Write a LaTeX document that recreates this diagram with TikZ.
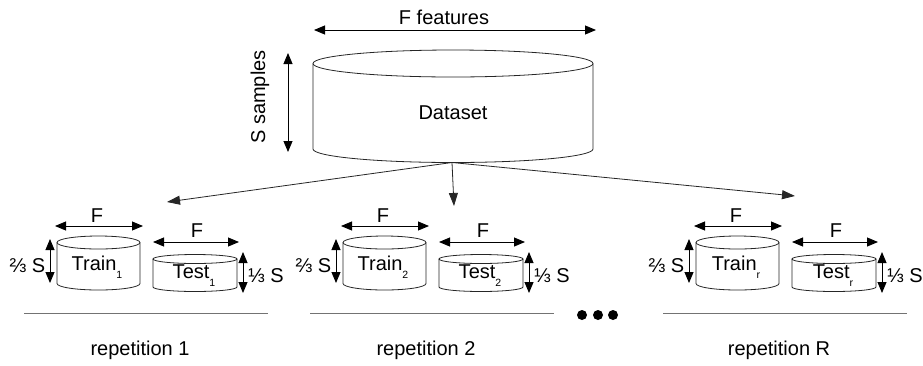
\documentclass[tikz,border=0pt]{standalone}
\usepackage{fontspec}
\setmainfont{Liberation Sans}
\usetikzlibrary{arrows.meta}

% a drum (cylinder) seen slightly from above: x1, x2, y of top rim, y of bottom rim, rim half-height
\newcommand\drum[5]{%
  \draw[ink, fill=white] (#1,#3) -- (#1,#4)
    arc[start angle=180, end angle=0, x radius={(#2-#1)/2}, y radius=#5] -- (#2,#3);
  \draw[ink] ({(#1+#2)/2},#3) ellipse[x radius={(#2-#1)/2}, y radius=#5];
}
\newcommand\subidx[1]{\raisebox{-8pt}{\fontsize{10.5}{10.5}\selectfont #1}}

% one train/test split: shift, index, caption, name suffix
\newcommand\repblock[4]{%
\begin{scope}[xshift=#1pt]
  \drum{57}{140}{242.5}{283.5}{6.5}
  \drum{153}{237}{259}{287}{4.5}
  \node[txt, anchor=base] (train#4) at (97,270) {Train\subidx{#2}};
  \node[txt, anchor=base] (test#4) at (194,278) {Test\subidx{#2}};
  % width arrows
  \coordinate (trFl#4) at (55,226);
  \coordinate (trFr#4) at (143,226);
  \draw[dimarr] (trFl#4) -- (trFr#4);
  \node[txt, anchor=base] (trF#4) at (97,222.5) {F};
  \coordinate (teFl#4) at (153,242);
  \coordinate (teFr#4) at (239,242);
  \draw[dimarr] (teFl#4) -- (teFr#4);
  \node[txt, anchor=base] (teF#4) at (197,237.5) {F};
  % height arrows
  \coordinate (trSt#4) at (50,239);
  \coordinate (trSb#4) at (50,283);
  \draw[dimarr] (trSt#4) -- (trSb#4);
  \node[txt, anchor=base east] (trS#4) at (45.5,272) {⅔ S};
  \coordinate (teSt#4) at (243,252);
  \coordinate (teSb#4) at (243,293);
  \draw[dimarr] (teSt#4) -- (teSb#4);
  \node[txt, anchor=base west] (teS#4) at (248,282) {⅓ S};
  % separator and caption
  \coordinate (sepl#4) at (24,313);
  \coordinate (sepr#4) at (268,313);
  \draw[sep] (sepl#4) -- (sepr#4);
  \node[txt] (cap#4) at (140,350) {#3};
\end{scope}}

\begin{document}
\begin{tikzpicture}[x=1pt, y=-1pt,
  ink/.style={draw=black!85, line width=0.8pt},
  dimarr/.style={black, line width=0.9pt,
    {Triangle[length=11pt,width=9pt]}-{Triangle[length=11pt,width=9pt]}},
  fanarr/.style={black!85, line width=0.8pt, -{Triangle[length=13pt,width=9pt]}},
  sep/.style={draw=black!55, line width=1pt},
  txt/.style={inner sep=0pt, font=\fontsize{20}{23}\selectfont},
  dot/.style={circle, fill=black, inner sep=0pt, minimum size=10pt}]
\useasboundingbox (0,0) rectangle (923,365);

% full dataset
\drum{313}{593}{63.5}{149}{13.5}
\node[txt] (dataset) at (453,113) {Dataset};
\coordinate (dsbot) at (452,162.5);

\coordinate (ffl) at (314,30);
\coordinate (ffr) at (596,30);
\draw[dimarr] (ffl) -- (ffr);
\node[txt, anchor=base] (ffeat) at (444,24) {F features};

\coordinate (sst) at (288,53);
\coordinate (ssb) at (288,152);
\draw[dimarr] (sst) -- (ssb);
\node[txt, rotate=90] (ssamp) at (260,97) {S samples};

% repetitions
\repblock{0}{1}{repetition 1}{a}
\repblock{286}{2}{repetition 2}{b}
\repblock{639}{r}{repetition R}{c}

% fan-out from the dataset
\coordinate (tipa) at (167,202);
\coordinate (tipb) at (454,206);
\coordinate (tipc) at (795,196);
\draw[fanarr] (dsbot) -- (tipa);
\draw[fanarr] (dsbot) -- (tipb);
\draw[fanarr] (dsbot) -- (tipc);

% ellipsis between repetitions
\node[dot] (dot1) at (582,315) {};
\node[dot] (dot2) at (598,315) {};
\node[dot] (dot3) at (613,315) {};
\end{tikzpicture}
\end{document}
